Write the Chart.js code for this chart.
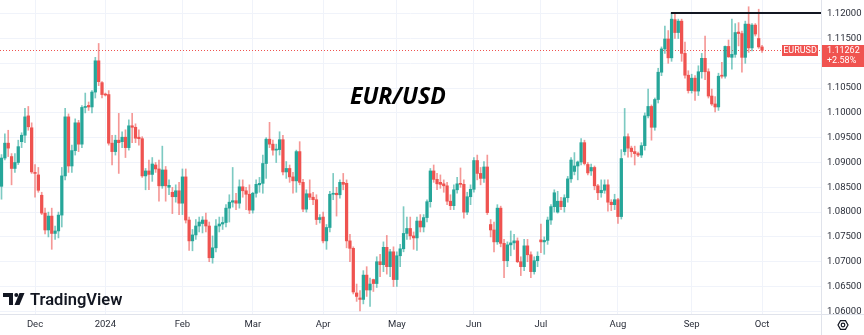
<!DOCTYPE html>
<html>
<head>
<meta charset="utf-8">
<script src="https://cdn.jsdelivr.net/npm/chart.js@4.4.1/dist/chart.umd.min.js"></script>
<style>
    html, body { margin: 0; padding: 0; background: #fff; }
    #wrap { width: 864px; height: 335px; position: relative; }
</style>
</head>
<body>
<div id="wrap"><canvas id="eurusdChart" width="864" height="335"></canvas></div>
<script>
// EUR/USD daily candles, one per weekday from 17 Nov 2023 to 1 Oct 2024
const startDay = '2023-11-17';

const opens = [
    1.0852, 1.0909, 1.0939, 1.0912, 1.0888, 1.0900, 1.0942, 1.0955, 1.0994, 1.0970,
    1.0880, 1.0875, 1.0834, 1.0798, 1.0764, 1.0792, 1.0757, 1.0762, 1.0794, 1.0873,
    1.0992, 1.0893, 1.0924, 1.0980, 1.0937, 1.1011, 1.1015, 1.1012, 1.1042, 1.1105,
    1.1061, 1.1037, 1.1037, 1.0939, 1.0922, 1.0945, 1.0942, 1.0951, 1.0930, 1.0974,
    1.0971, 1.0951, 1.0948, 1.0873, 1.0883, 1.0876, 1.0895, 1.0887, 1.0853, 1.0885,
    1.0850, 1.0840, 1.0831, 1.0843, 1.0818, 1.0871, 1.0784, 1.0742, 1.0754, 1.0772,
    1.0777, 1.0784, 1.0772, 1.0708, 1.0728, 1.0772, 1.0776, 1.0779, 1.0808, 1.0820,
    1.0823, 1.0818, 1.0851, 1.0843, 1.0836, 1.0804, 1.0838, 1.0855, 1.0858, 1.0898,
    1.0947, 1.0937, 1.0925, 1.0926, 1.0946, 1.0881, 1.0888, 1.0871, 1.0863, 1.0922,
    1.0860, 1.0806, 1.0837, 1.0830, 1.0825, 1.0785, 1.0790, 1.0742, 1.0769, 1.0836,
    1.0838, 1.0835, 1.0860, 1.0858, 1.0742, 1.0727, 1.0637, 1.0627, 1.0624, 1.0673,
    1.0643, 1.0664, 1.0656, 1.0700, 1.0694, 1.0729, 1.0690, 1.0720, 1.0664, 1.0712,
    1.0726, 1.0757, 1.0767, 1.0752, 1.0748, 1.0782, 1.0770, 1.0789, 1.0821, 1.0883,
    1.0866, 1.0860, 1.0857, 1.0853, 1.0822, 1.0813, 1.0845, 1.0858, 1.0856, 1.0800,
    1.0831, 1.0846, 1.0904, 1.0878, 1.0868, 1.0891, 1.0775, 1.0764, 1.0740, 1.0808,
    1.0737, 1.0702, 1.0734, 1.0738, 1.0742, 1.0700, 1.0690, 1.0732, 1.0714, 1.0680,
    1.0702, 1.0744, 1.0740, 1.0743, 1.0784, 1.0811, 1.0800, 1.0822, 1.0811, 1.0829,
    1.0867, 1.0882, 1.0893, 1.0901, 1.0940, 1.0896, 1.0883, 1.0890, 1.0853, 1.0839,
    1.0844, 1.0855, 1.0820, 1.0815, 1.0825, 1.0791, 1.0922, 1.0952, 1.0929, 1.0922,
    1.0918, 1.0915, 1.0934, 1.0994, 1.1013, 1.0971, 1.1027, 1.1082, 1.1129, 1.1149,
    1.1111, 1.1188, 1.1162, 1.1185, 1.1120, 1.1076, 1.1045, 1.1070, 1.1044, 1.1083,
    1.1110, 1.1083, 1.1034, 1.1018, 1.1012, 1.1076, 1.1074, 1.1134, 1.1112, 1.1118,
    1.1163, 1.1160, 1.1112, 1.1179, 1.1131, 1.1177, 1.1150, 1.1133
];
const highs = [
    1.0916, 1.0958, 1.0965, 1.0918, 1.0918, 1.0945, 1.0960, 1.1009, 1.1013, 1.0980,
    1.0896, 1.0890, 1.0840, 1.0808, 1.0800, 1.0808, 1.0772, 1.0800, 1.0890, 1.1009,
    1.0998, 1.0935, 1.0988, 1.0985, 1.1015, 1.1040, 1.1022, 1.1045, 1.1112, 1.1140,
    1.1063, 1.1040, 1.1045, 1.0955, 1.0955, 1.0999, 1.0962, 1.0966, 1.0986, 1.0999,
    1.0978, 1.0966, 1.0952, 1.0888, 1.0905, 1.0910, 1.0900, 1.0905, 1.0933, 1.0892,
    1.0865, 1.0850, 1.0855, 1.0860, 1.0887, 1.0887, 1.0790, 1.0765, 1.0785, 1.0790,
    1.0791, 1.0798, 1.0780, 1.0752, 1.0785, 1.0790, 1.0790, 1.0815, 1.0835, 1.0890,
    1.0838, 1.0865, 1.0865, 1.0850, 1.0855, 1.0840, 1.0865, 1.0870, 1.0915, 1.0950,
    1.0981, 1.0945, 1.0937, 1.0962, 1.0955, 1.0902, 1.0895, 1.0880, 1.0925, 1.0942,
    1.0866, 1.0845, 1.0865, 1.0840, 1.0835, 1.0795, 1.0800, 1.0775, 1.0842, 1.0878,
    1.0850, 1.0865, 1.0878, 1.0865, 1.0755, 1.0730, 1.0655, 1.0642, 1.0682, 1.0690,
    1.0667, 1.0665, 1.0710, 1.0715, 1.0740, 1.0753, 1.0725, 1.0730, 1.0720, 1.0735,
    1.0811, 1.0790, 1.0790, 1.0760, 1.0790, 1.0795, 1.0795, 1.0825, 1.0888, 1.0895,
    1.0878, 1.0875, 1.0865, 1.0860, 1.0835, 1.0855, 1.0870, 1.0889, 1.0865, 1.0840,
    1.0855, 1.0910, 1.0915, 1.0890, 1.0902, 1.0915, 1.0785, 1.0780, 1.0815, 1.0812,
    1.0745, 1.0740, 1.0762, 1.0755, 1.0748, 1.0710, 1.0745, 1.0745, 1.0720, 1.0710,
    1.0720, 1.0776, 1.0750, 1.0790, 1.0815, 1.0845, 1.0842, 1.0830, 1.0835, 1.0872,
    1.0910, 1.0920, 1.0903, 1.0948, 1.0945, 1.0900, 1.0897, 1.0893, 1.0856, 1.0865,
    1.0865, 1.0865, 1.0825, 1.0836, 1.0828, 1.0926, 1.1009, 1.0958, 1.0933, 1.0933,
    1.0921, 1.0940, 1.1000, 1.1048, 1.1016, 1.1030, 1.1090, 1.1133, 1.1175, 1.1166,
    1.1201, 1.1201, 1.1189, 1.1189, 1.1143, 1.1085, 1.1078, 1.1075, 1.1095, 1.1120,
    1.1155, 1.1089, 1.1048, 1.1033, 1.1080, 1.1102, 1.1135, 1.1147, 1.1189, 1.1180,
    1.1182, 1.1165, 1.1185, 1.1214, 1.1180, 1.1180, 1.1209, 1.1136
];
const lows = [
    1.0826, 1.0905, 1.0912, 1.0855, 1.0880, 1.0896, 1.0930, 1.0940, 1.0965, 1.0878,
    1.0830, 1.0840, 1.0795, 1.0756, 1.0750, 1.0725, 1.0745, 1.0748, 1.0770, 1.0865,
    1.0880, 1.0880, 1.0915, 1.0922, 1.0930, 1.1000, 1.1005, 1.1000, 1.1030, 1.1055,
    1.1030, 1.1034, 1.0935, 1.0895, 1.0915, 1.0878, 1.0930, 1.0910, 1.0925, 1.0940,
    1.0940, 1.0935, 1.0870, 1.0845, 1.0845, 1.0862, 1.0880, 1.0822, 1.0848, 1.0822,
    1.0835, 1.0797, 1.0820, 1.0795, 1.0795, 1.0778, 1.0723, 1.0722, 1.0745, 1.0760,
    1.0758, 1.0760, 1.0700, 1.0697, 1.0720, 1.0760, 1.0765, 1.0770, 1.0780, 1.0810,
    1.0805, 1.0808, 1.0830, 1.0805, 1.0797, 1.0798, 1.0830, 1.0840, 1.0838, 1.0868,
    1.0930, 1.0915, 1.0900, 1.0915, 1.0875, 1.0868, 1.0860, 1.0838, 1.0840, 1.0855,
    1.0801, 1.0800, 1.0825, 1.0815, 1.0775, 1.0778, 1.0738, 1.0725, 1.0760, 1.0825,
    1.0792, 1.0828, 1.0845, 1.0728, 1.0700, 1.0635, 1.0620, 1.0601, 1.0615, 1.0630,
    1.0610, 1.0640, 1.0648, 1.0670, 1.0680, 1.0675, 1.0670, 1.0650, 1.0650, 1.0690,
    1.0720, 1.0745, 1.0745, 1.0725, 1.0723, 1.0760, 1.0760, 1.0780, 1.0810, 1.0860,
    1.0845, 1.0848, 1.0840, 1.0815, 1.0805, 1.0805, 1.0838, 1.0850, 1.0788, 1.0795,
    1.0815, 1.0840, 1.0865, 1.0855, 1.0860, 1.0795, 1.0750, 1.0720, 1.0735, 1.0730,
    1.0668, 1.0690, 1.0712, 1.0725, 1.0698, 1.0672, 1.0682, 1.0700, 1.0668, 1.0675,
    1.0690, 1.0718, 1.0715, 1.0735, 1.0775, 1.0800, 1.0798, 1.0805, 1.0800, 1.0820,
    1.0860, 1.0875, 1.0865, 1.0895, 1.0895, 1.0875, 1.0874, 1.0845, 1.0825, 1.0830,
    1.0838, 1.0802, 1.0803, 1.0805, 1.0777, 1.0786, 1.0915, 1.0911, 1.0911, 1.0895,
    1.0912, 1.0910, 1.0925, 1.0990, 1.0945, 1.0965, 1.1020, 1.1075, 1.1120, 1.1100,
    1.1104, 1.1150, 1.1150, 1.1104, 1.1070, 1.1040, 1.1040, 1.1025, 1.1035, 1.1070,
    1.1067, 1.1030, 1.1015, 1.1002, 1.1005, 1.1070, 1.1070, 1.1112, 1.1088, 1.1112,
    1.1135, 1.1082, 1.1100, 1.1122, 1.1125, 1.1155, 1.1130, 1.1122
];
const closes = [
    1.0909, 1.0939, 1.0929, 1.0888, 1.0900, 1.0932, 1.0955, 1.0992, 1.0972, 1.0881,
    1.0878, 1.0844, 1.0798, 1.0764, 1.0792, 1.0757, 1.0762, 1.0794, 1.0873, 1.0992,
    1.0893, 1.0924, 1.0980, 1.0937, 1.1011, 1.1013, 1.1012, 1.1042, 1.1105, 1.1063,
    1.1037, 1.1036, 1.0939, 1.0922, 1.0945, 1.0940, 1.0951, 1.0930, 1.0974, 1.0971,
    1.0949, 1.0948, 1.0873, 1.0883, 1.0876, 1.0897, 1.0887, 1.0853, 1.0885, 1.0853,
    1.0854, 1.0831, 1.0843, 1.0818, 1.0871, 1.0784, 1.0742, 1.0754, 1.0772, 1.0780,
    1.0784, 1.0772, 1.0708, 1.0728, 1.0772, 1.0776, 1.0779, 1.0808, 1.0820, 1.0823,
    1.0818, 1.0851, 1.0843, 1.0836, 1.0804, 1.0838, 1.0856, 1.0858, 1.0898, 1.0947,
    1.0937, 1.0925, 1.0926, 1.0946, 1.0881, 1.0888, 1.0871, 1.0863, 1.0922, 1.0860,
    1.0806, 1.0837, 1.0830, 1.0825, 1.0785, 1.0789, 1.0742, 1.0769, 1.0836, 1.0838,
    1.0835, 1.0860, 1.0856, 1.0742, 1.0727, 1.0639, 1.0630, 1.0624, 1.0673, 1.0643,
    1.0655, 1.0656, 1.0700, 1.0694, 1.0729, 1.0690, 1.0720, 1.0664, 1.0712, 1.0726,
    1.0757, 1.0767, 1.0752, 1.0748, 1.0782, 1.0770, 1.0789, 1.0821, 1.0883, 1.0866,
    1.0857, 1.0856, 1.0853, 1.0822, 1.0813, 1.0845, 1.0857, 1.0856, 1.0800, 1.0831,
    1.0846, 1.0904, 1.0878, 1.0868, 1.0891, 1.0799, 1.0764, 1.0740, 1.0808, 1.0737,
    1.0702, 1.0734, 1.0738, 1.0742, 1.0700, 1.0690, 1.0732, 1.0714, 1.0680, 1.0702,
    1.0711, 1.0740, 1.0743, 1.0784, 1.0811, 1.0839, 1.0822, 1.0811, 1.0829, 1.0867,
    1.0905, 1.0893, 1.0901, 1.0940, 1.0898, 1.0879, 1.0890, 1.0853, 1.0839, 1.0844,
    1.0855, 1.0820, 1.0815, 1.0825, 1.0791, 1.0908, 1.0952, 1.0929, 1.0922, 1.0918,
    1.0915, 1.0934, 1.0994, 1.1013, 1.0971, 1.1027, 1.1082, 1.1129, 1.1149, 1.1111,
    1.1189, 1.1162, 1.1185, 1.1120, 1.1076, 1.1045, 1.1070, 1.1044, 1.1083, 1.1110,
    1.1083, 1.1034, 1.1018, 1.1012, 1.1074, 1.1074, 1.1134, 1.1113, 1.1118, 1.1162,
    1.1160, 1.1112, 1.1179, 1.1131, 1.1177, 1.1159, 1.1133, 1.11262
];

const priceTicks = [1.06, 1.065, 1.07, 1.075, 1.08, 1.085, 1.09, 1.095, 1.10, 1.105, 1.11, 1.115, 1.12];
const monthNames = ['Jan', 'Feb', 'Mar', 'Apr', 'May', 'Jun', 'Jul', 'Aug', 'Sep', 'Oct', 'Nov', 'Dec'];

const symbol = 'EURUSD';
const chartTitle = 'EUR/USD';
const lastPrice = 1.11262;
const changeText = '+2.58%';
const resistance = 1.12;
const resistanceFrom = 199.8;   // candle index where the drawn line starts

const upColor = '#26a69a';
const downColor = '#ef5350';
const upWick = 'rgba(38, 166, 154, 0.6)';
const downWick = 'rgba(239, 83, 80, 0.6)';
const textColor = '#2a2e39';

// weekday dates for the candles
const days = [];
const d = new Date(startDay + 'T00:00:00Z');
while (days.length < closes.length) {
    const wd = d.getUTCDay();
    if (wd !== 0 && wd !== 6) days.push(new Date(d));
    d.setUTCDate(d.getUTCDate() + 1);
}
const monthTicks = {};
days.forEach((day, i) => {
    if (i > 0 && day.getUTCMonth() !== days[i - 1].getUTCMonth()) {
        const m = day.getUTCMonth();
        monthTicks[i] = m === 0 ? String(day.getUTCFullYear()) : monthNames[m];
    }
});

const isUp = closes.map((c, i) => c >= opens[i]);

Chart.defaults.font.family = 'Roboto, "Noto Sans", sans-serif';

const overlay = {
    id: 'overlay',
    beforeDraw(chart) {
        const { ctx } = chart;
        ctx.save();
        ctx.fillStyle = '#fff';
        ctx.fillRect(0, 0, chart.width, chart.height);
        ctx.restore();
    },
    beforeDatasetsDraw(chart) {
        const { ctx, chartArea: a, scales: { x, y } } = chart;
        const py = Math.round(y.getPixelForValue(lastPrice)) + 0.5;
        ctx.save();
        ctx.strokeStyle = downColor;
        ctx.lineWidth = 1;
        ctx.setLineDash([1, 2]);
        ctx.beginPath();
        ctx.moveTo(a.left, py);
        ctx.lineTo(a.right, py);
        ctx.stroke();

        // title
        ctx.setLineDash([]);
        ctx.fillStyle = '#000';
        ctx.font = 'italic bold 23px "Open Sans"';
        ctx.textAlign = 'center';
        ctx.textBaseline = 'alphabetic';
        ctx.fillText(chartTitle, x.getPixelForValue(118.3), y.getPixelForValue(1.1017));
        ctx.restore();
    },
    afterDraw(chart) {
        const { ctx, chartArea: a, scales: { x, y } } = chart;
        ctx.save();

        // resistance line
        const ry = Math.round(y.getPixelForValue(resistance)) - 1;
        ctx.strokeStyle = '#131722';
        ctx.lineWidth = 2;
        ctx.beginPath();
        ctx.moveTo(x.getPixelForValue(resistanceFrom), ry);
        ctx.lineTo(a.right, ry);
        ctx.stroke();

        // pane borders
        ctx.strokeStyle = '#e0e3eb';
        ctx.lineWidth = 1;
        ctx.beginPath();
        ctx.moveTo(0, a.bottom + 0.5);
        ctx.lineTo(chart.width, a.bottom + 0.5);
        ctx.moveTo(a.right + 0.5, 0);
        ctx.lineTo(a.right + 0.5, chart.height);
        ctx.stroke();

        // last price labels
        const py = y.getPixelForValue(lastPrice);
        const top = Math.round(py) - 5;
        ctx.fillStyle = '#f05350';
        ctx.fillRect(a.right + 1, top, chart.width - a.right - 1, 22);
        ctx.fillRect(a.right - 39, top, 36, 11);
        ctx.fillStyle = '#fff';
        ctx.font = '9px Roboto';
        ctx.textBaseline = 'middle';
        ctx.textAlign = 'left';
        ctx.fillText(lastPrice.toFixed(5), a.right + 6, top + 5.5);
        ctx.fillText(changeText, a.right + 6, top + 16);
        ctx.textAlign = 'center';
        ctx.fillText(symbol, a.right - 21, top + 5.5);

        // TradingView logo
        ctx.fillStyle = '#131722';
        ctx.fillRect(3, 293, 10, 4);
        ctx.fillRect(9, 293, 4, 12);
        ctx.beginPath();
        ctx.arc(16.3, 295, 2, 0, Math.PI * 2);
        ctx.fill();
        ctx.beginPath();
        ctx.moveTo(19.5, 293);
        ctx.lineTo(24.5, 293);
        ctx.lineTo(19.5, 305);
        ctx.lineTo(14.5, 305);
        ctx.closePath();
        ctx.fill();
        ctx.font = '600 16.5px Roboto';
        ctx.textAlign = 'left';
        ctx.textBaseline = 'alphabetic';
        ctx.fillText('TradingView', 30, 305);

        // settings icon
        const gx = 843, gy = 325;
        ctx.strokeStyle = '#131722';
        ctx.lineWidth = 1.2;
        ctx.beginPath();
        for (let k = 0; k < 6; k++) {
            const ang = Math.PI / 3 * k;
            const px = gx + 5 * Math.cos(ang), pyy = gy + 5 * Math.sin(ang);
            if (k === 0) ctx.moveTo(px, pyy); else ctx.lineTo(px, pyy);
        }
        ctx.closePath();
        ctx.stroke();
        ctx.beginPath();
        ctx.arc(gx, gy, 1.8, 0, Math.PI * 2);
        ctx.stroke();
        ctx.restore();
    }
};

const ctx = document.getElementById('eurusdChart').getContext('2d');
new Chart(ctx, {
    type: 'bar',
    data: {
        datasets: [
            {
                // wicks
                data: closes.map((c, i) => ({ x: i, y: [lows[i], highs[i]] })),
                backgroundColor: isUp.map(u => u ? upWick : downWick),
                barThickness: 1,
                grouped: false,
                borderWidth: 0
            },
            {
                // bodies
                data: closes.map((c, i) => ({ x: i, y: [opens[i], c] })),
                backgroundColor: isUp.map(u => u ? upColor : downColor),
                barThickness: 2.6,
                minBarLength: 1,
                grouped: false,
                borderWidth: 0
            }
        ]
    },
    options: {
        responsive: false,
        animation: false,
        events: [],
        layout: { padding: 0 },
        plugins: {
            legend: { display: false },
            tooltip: { enabled: false }
        },
        scales: {
            x: {
                type: 'linear',
                min: -0.448,
                max: 244.6,
                offset: false,
                grid: { color: '#f0f3fa', offset: false, drawTicks: false },
                border: { display: false },
                afterBuildTicks: axis => {
                    axis.ticks = Object.keys(monthTicks).map(k => ({ value: Number(k) }));
                },
                afterFit: s => {
                    s.height = 21;
                    s.paddingLeft = 0;
                    s.paddingRight = 0;
                },
                ticks: {
                    autoSkip: false,
                    maxRotation: 0,
                    padding: 5,
                    color: textColor,
                    font: { size: 9.5 },
                    callback: v => monthTicks[v] || ''
                }
            },
            y: {
                position: 'right',
                min: 1.05946,
                max: 1.12276,
                grid: { color: '#f0f3fa', drawTicks: false },
                border: { display: false },
                afterBuildTicks: axis => {
                    axis.ticks = priceTicks.map(v => ({ value: v }));
                },
                afterFit: s => {
                    s.width = 43;
                    s.paddingTop = 0;
                    s.paddingBottom = 0;
                },
                ticks: {
                    padding: 6,
                    color: textColor,
                    font: { size: 9.5 },
                    callback: v => v.toFixed(5)
                }
            }
        }
    },
    plugins: [overlay]
});
</script>
</body>
</html>
